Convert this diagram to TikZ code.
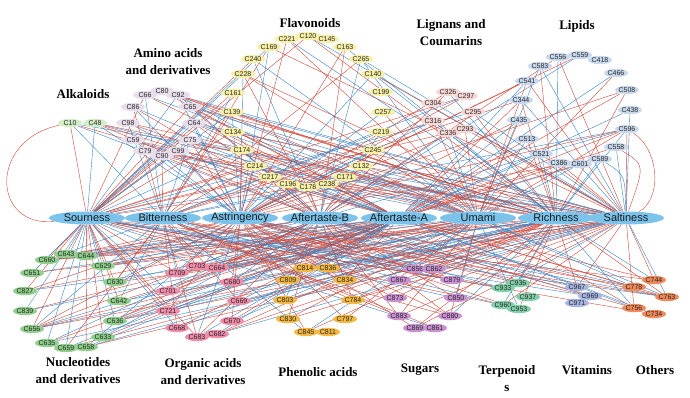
\documentclass[tikz,border=0pt]{standalone}
\usepackage{fontspec}
\setsansfont{Liberation Sans}
\newfontfamily\titlefont{Liberation Serif}
\usetikzlibrary{shapes.geometric,backgrounds}
\definecolor{edgered}{HTML}{CF4538}
\definecolor{edgeblue}{HTML}{3A84C4}
\definecolor{cTaste}{HTML}{7CC3EC}
\definecolor{cAk}{HTML}{D4EDC6}
\definecolor{cAm}{HTML}{E8DDEA}
\definecolor{cFl}{HTML}{F7F0A6}
\definecolor{cLi}{HTML}{F8D8D6}
\definecolor{cLp}{HTML}{C8D9EE}
\definecolor{cNu}{HTML}{90D08C}
\definecolor{cOr}{HTML}{F08DAA}
\definecolor{cPh}{HTML}{F5B943}
\definecolor{cSu}{HTML}{CA92D2}
\definecolor{cTe}{HTML}{82D1AA}
\definecolor{cVi}{HTML}{A6B5E1}
\definecolor{cOt}{HTML}{F08A5A}
\tikzset{
  cmp/.style={ellipse, inner xsep=-1.5pt, inner ysep=0pt, minimum width=24pt,
    minimum height=8.5pt, font=\sffamily\fontsize{7}{8}\selectfont, text=black!85},
  ak/.style={cmp, fill=cAk}, am/.style={cmp, fill=cAm}, fl/.style={cmp, fill=cFl},
  li/.style={cmp, fill=cLi}, lp/.style={cmp, fill=cLp}, nu/.style={cmp, fill=cNu},
  or/.style={cmp, fill=cOr}, ph/.style={cmp, fill=cPh}, su/.style={cmp, fill=cSu},
  te/.style={cmp, fill=cTe}, vi/.style={cmp, fill=cVi}, ot/.style={cmp, fill=cOt},
  taste/.style={ellipse, fill=cTaste, minimum width=76pt, minimum height=13pt,
    inner xsep=-9pt, inner ysep=-1pt, font=\sffamily\fontsize{11}{12}\selectfont, text=black!90},
  ttl/.style={font=\titlefont\bfseries\fontsize{13}{17}\selectfont, align=center},
  er/.style={draw=edgered, line width=0.4pt},
  eb/.style={draw=edgeblue, line width=0.4pt},
}
\newcommand\linkgroup[3]{%
  \foreach \nd [count=\ii] in #1{%
    \foreach \tst/\pp [count=\jj] in {#2}{%
      \pgfmathtruncatemacro\hh{mod(\ii*37+\jj*61+#3*17+\ii*\jj*13,100)}%
      \ifnum\hh<\pp\relax
        \pgfmathtruncatemacro\cc{mod(\ii*7+\jj*5+#3,9)}%
        \ifnum\cc<4 \draw[eb] (\nd) -- (\tst);\else\draw[er] (\nd) -- (\tst);\fi
      \fi
    }%
  }%
}
\def\lak{C10,C48}
\def\lam{C66,C80,C92,C86,C65,C98,C64,C59,C75,C79,C99,C90}
\def\lfl{C221,C120,C145,C169,C163,C240,C265,C228,C140,C161,C199,C139,C257,C134,C219,C174,C245,C214,C132,C217,C171,C196,C178,C238}
\def\lli{C326,C297,C304,C295,C316,C293,C336}
\def\llp{C556,C559,C418,C583,C466,C541,C508,C344,C438,C435,C596,C513,C558,C521,C589,C386,C601}
\def\lnu{C643,C644,C660,C629,C651,C630,C827,C642,C839,C636,C656,C633,C635,C659,C658}
\def\lor{C703,C664,C709,C680,C701,C669,C721,C670,C668,C682,C683}
\def\lph{C814,C836,C809,C834,C803,C784,C830,C797,C845,C811}
\def\lsu{C856,C862,C867,C879,C873,C850,C883,C880,C869,C861}
\def\lte{C936,C933,C937,C960,C953}
\def\lvi{C967,C969,C971}
\def\lot{C744,C778,C763,C756,C734}
\begin{document}
\begin{tikzpicture}[x=1pt,y=-1pt]
\useasboundingbox (0,0) rectangle (690,398);
% taste nodes
\node[taste] (So) at (87,218) {Sourness};
\node[taste] (Bi) at (163,218) {Bitterness};
\node[taste] (As) at (240,218) {Astringency};
\node[taste] (AB) at (320,218) {Aftertaste-B};
\node[taste] (AA) at (399,218) {Aftertaste-A};
\node[taste] (Um) at (478,218) {Umami};
\node[taste] (Ri) at (556,218) {Richness};
\node[taste] (Sa) at (626,218) {Saltiness};
% compounds
\foreach \n/\x/\y in {C10/70/123,C48/95/123} \node[ak] (\n) at (\x,\y) {\n};
\foreach \n/\x/\y in {C66/145/95,C80/162/91,C92/178/95,C86/133/107,C65/190/107,C98/128/123,C64/194/123,C59/133/140,C75/190/140,C79/145/151,C99/178/151,C90/162/156} \node[am] (\n) at (\x,\y) {\n};
\foreach \n/\x/\y in {C221/287/39,C120/308/36,C145/327/39,C169/269/47,C163/345/47,C240/253/59,C265/361/59,C228/243/74,C140/373/74,C161/233/93,C199/381/92,C139/232/112,C257/383/112,C134/233/132,C219/381/132,C174/242/150,C245/373/150,C214/255/166,C132/361/166,C217/270/177,C171/345/177,C196/288/184,C178/308/187,C238/327/184} \node[fl] (\n) at (\x,\y) {\n};
\foreach \n/\x/\y in {C326/448/92,C297/466/96,C304/433/103,C295/473/112,C316/433/121,C293/465/129,C336/448/133} \node[li] (\n) at (\x,\y) {\n};
\foreach \n/\x/\y in {C556/558/57,C559/580/55,C418/600/60,C583/540/66,C466/616/73,C541/527/81,C508/627/90,C344/521/100,C438/630/110,C435/519/120,C596/627/129,C513/527/139,C558/616/147,C521/541/154,C589/600/159,C386/559/163,C601/580/164} \node[lp] (\n) at (\x,\y) {\n};
\foreach \n/\x/\y in {C643/66/254,C644/86/256,C660/47/260,C629/103/266,C651/32/273,C630/115/282,C827/25/291,C642/119/301,C839/25/311,C636/115/321,C656/32/329,C633/103/337,C635/47/343,C659/66/348,C658/86/347} \node[nu] (\n) at (\x,\y) {\n};
\foreach \n/\x/\y in {C703/197/266,C664/217/268,C709/177/273,C680/232/282,C701/168/291,C669/239/301,C721/168/311,C670/232/321,C668/177/328,C682/217/334,C683/197/337} \node[or] (\n) at (\x,\y) {\n};
\foreach \n/\x/\y in {C814/305/268,C836/328/268,C809/288/280,C834/345/280,C803/285/300,C784/353/300,C830/288/319,C797/345/319,C845/306/332,C811/328/332} \node[ph] (\n) at (\x,\y) {\n};
\foreach \n/\x/\y in {C856/415/269,C862/434/269,C867/399/280,C879/452/280,C873/395/298,C850/456/298,C883/399/316,C880/450/316,C869/415/328,C861/435/328} \node[su] (\n) at (\x,\y) {\n};
\foreach \n/\x/\y in {C936/518/283,C933/503/288,C937/528/297,C960/503/305,C953/519/309} \node[te] (\n) at (\x,\y) {\n};
\foreach \n/\x/\y in {C967/577/287,C969/590/296,C971/577/303} \node[vi] (\n) at (\x,\y) {\n};
\foreach \n/\x/\y in {C744/654/280,C778/634/287,C763/667/297,C756/634/308,C734/654/314} \node[ot] (\n) at (\x,\y) {\n};
% titles
\node[ttl] (tAk) at (83,94) {Alkaloids};
\node[ttl] (tAm) at (168,62) {Amino acids\\and derivatives};
\node[ttl] (tFl) at (310,23) {Flavonoids};
\node[ttl] (tLi) at (451,33) {Lignans and\\Coumarins};
\node[ttl] (tLp) at (577,26) {Lipids};
\node[ttl] (tNu) at (78,371) {Nucleotides\\and derivatives};
\node[ttl] (tOr) at (203,372) {Organic acids\\and derivatives};
\node[ttl] (tPh) at (318,372) {Phenolic acids};
\node[ttl] (tSu) at (420,370) {Sugars};
\node[ttl] (tTe) at (507,379) {Terpenoid\\s};
\node[ttl] (tVi) at (587,370) {Vitamins};
\node[ttl] (tOt) at (655,370) {Others};
% edges
\begin{scope}[on background layer]
\linkgroup{\lak}{So/95,Bi/40,As/70,AB/65,AA/70,Um/60,Ri/70,Sa/65}{1}
\linkgroup{\lam}{So/60,Bi/40,As/60,AB/50,AA/60,Um/50,Ri/50,Sa/40}{2}
\linkgroup{\lfl}{So/50,Bi/30,As/55,AB/50,AA/50,Um/40,Ri/40,Sa/35}{3}
\linkgroup{\lli}{So/50,Bi/30,As/50,AB/40,AA/50,Um/40,Ri/40,Sa/30}{4}
\linkgroup{\llp}{So/30,Bi/12,As/25,AB/20,AA/30,Um/45,Ri/50,Sa/50}{5}
\linkgroup{\lnu}{So/75,Bi/35,As/45,AB/40,AA/50,Um/45,Ri/50,Sa/50}{6}
\linkgroup{\lor}{So/50,Bi/40,As/50,AB/45,AA/50,Um/40,Ri/45,Sa/35}{7}
\linkgroup{\lph}{So/45,Bi/40,As/50,AB/50,AA/50,Um/40,Ri/40,Sa/30}{8}
\linkgroup{\lsu}{So/45,Bi/35,As/45,AB/40,AA/45,Um/45,Ri/45,Sa/40}{9}
\linkgroup{\lte}{So/55,Bi/35,As/50,AB/40,AA/50,Um/50,Ri/55,Sa/45}{10}
\linkgroup{\lvi}{So/55,Bi/35,As/50,AB/40,AA/50,Um/50,Ri/55,Sa/50}{11}
\linkgroup{\lot}{So/55,Bi/30,As/50,AB/35,AA/45,Um/45,Ri/60,Sa/65}{12}
\draw[er] (C10) .. controls (-12,140) and (-8,228) .. (So);
\draw[er] (C596) .. controls (660,150) and (662,200) .. (Sa);
\draw[er] (C558) .. controls (645,165) .. (Sa);
\draw[eb] (C589) .. controls (625,175) .. (Sa);
\end{scope}
\end{tikzpicture}
\end{document}
